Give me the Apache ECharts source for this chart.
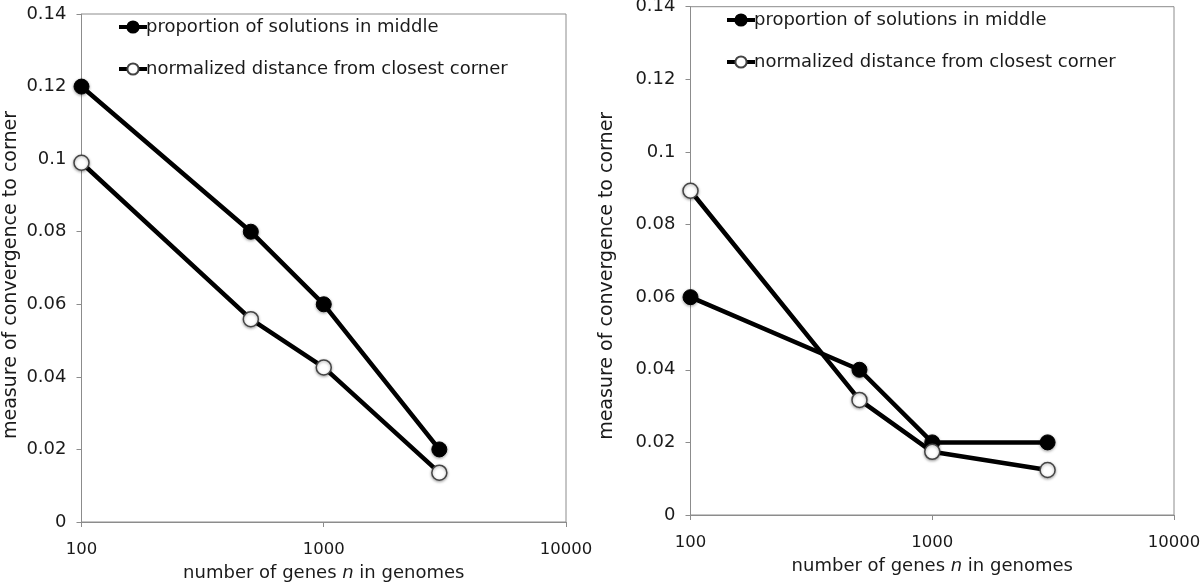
<!DOCTYPE html>
<html><head><meta charset="utf-8">
<script src="https://cdn.jsdelivr.net/npm/echarts@6/dist/echarts.min.js"></script>
<style>html,body{margin:0;padding:0;background:#fff}#c{width:1200px;height:582px}</style>
</head><body><div id="c"></div>
<script>
const genes = [100, 500, 1000, 3000];
const seriesNames = ['proportion of solutions in middle', 'normalized distance from closest corner'];
const leftProportion = [0.12, 0.08, 0.06, 0.02];
const leftNormalized = [0.099, 0.0559, 0.0426, 0.0136];
const rightProportion = [0.06, 0.04, 0.02, 0.02];
const rightNormalized = [0.0893, 0.0317, 0.0174, 0.0124];
const xTitle = '{a|number of genes }{i|n}{a| in genomes}';
const yTitle = 'measure of convergence to corner';

const FONT = '"DejaVu Sans", Verdana, sans-serif';
const TXT = '#1a1a1a';
const AXC = '#8c8c8c';

function pairs(vals){ return genes.map((g,i)=>[g, vals[i]]); }

const chart = echarts.init(document.getElementById('c'), null, {renderer:'canvas'});

function xAxis(gi){
  return {
    type:'log', logBase:10, min:100, max:10000, gridIndex:gi,
    axisLine:{show:true, lineStyle:{color:AXC, width:1}},
    axisTick:{show:true, length:5, inside:false, lineStyle:{color:AXC}},
    axisLabel:{color:TXT, fontFamily:FONT, fontSize:16.5, margin:19, formatter:v=>String(Math.round(v))},
    splitLine:{show:false}, minorTick:{show:false},
    name:xTitle, nameLocation:'middle', nameGap:42,
    nameTextStyle:{rich:{
      a:{fontFamily:FONT, fontSize:18, color:TXT},
      i:{fontFamily:FONT, fontSize:18, color:TXT, fontStyle:'italic'}
    }}
  };
}
function yAxis(gi, gap, shift){
  return {
    type:'value', min:0, max:0.14, interval:0.02, gridIndex:gi,
    axisLine:{show:true, lineStyle:{color:AXC, width:1}},
    axisTick:{show:true, length:5, lineStyle:{color:AXC}},
    axisLabel:{color:TXT, fontFamily:FONT, fontSize:18, margin:15,
      formatter:v=>String(+v.toFixed(2))},
    splitLine:{show:false},
    name:yTitle, nameLocation:'middle', nameGap:gap,
    nameTextStyle:{fontFamily:FONT, fontSize:19, color:TXT, padding:[0, shift, 0, 0]}
  };
}
function mk(name, data, gi, filled){
  return {
    type:'line', name:name, xAxisIndex:gi, yAxisIndex:gi, data:pairs(data),
    symbol:'circle', symbolSize:15, z: filled?3:4,
    lineStyle:{color:'#000', width:4.5},
    itemStyle: filled
      ? {color:'#000', borderColor:'#000', borderWidth:1, shadowBlur:3, shadowColor:'rgba(0,0,0,0.35)', shadowOffsetY:1}
      : {color:'#fff', borderColor:'#444', borderWidth:1.5, shadowBlur:3, shadowColor:'rgba(0,0,0,0.35)', shadowOffsetY:1},
    emphasis:{disabled:true}, animation:false
  };
}
function legend(left, top){
  return {
    left:left, top:top, orient:'vertical', itemWidth:28, itemHeight:14, itemGap:24, padding:0,
    data:seriesNames, lineStyle:{width:4, color:'#000'},
    textStyle:{fontFamily:FONT, fontSize:18, color:TXT, padding:[0,0,0,-6]},
    selectedMode:false
  };
}

chart.setOption({
  animation:false,
  backgroundColor:'#fff',
  grid:[
    {left:81.5, right:634, top:14, bottom:60, show:true, borderColor:AXC, borderWidth:1, backgroundColor:'transparent', outerBoundsMode:'none', containLabel:false},
    {left:690.5, right:26, top:6.7, bottom:67, show:true, borderColor:AXC, borderWidth:1, backgroundColor:'transparent', outerBoundsMode:'none', containLabel:false}
  ],
  legend:[legend(117, 18), legend(725, 11)],
  xAxis:[xAxis(0), xAxis(1)],
  yAxis:[yAxis(0, 61, 14), yAxis(1, 74, 30)],
  series:[
    mk(seriesNames[0], leftProportion, 0, true),
    mk(seriesNames[1], leftNormalized, 0, false),
    mk(seriesNames[0], rightProportion, 1, true),
    mk(seriesNames[1], rightNormalized, 1, false)
  ]
});
</script></body></html>
